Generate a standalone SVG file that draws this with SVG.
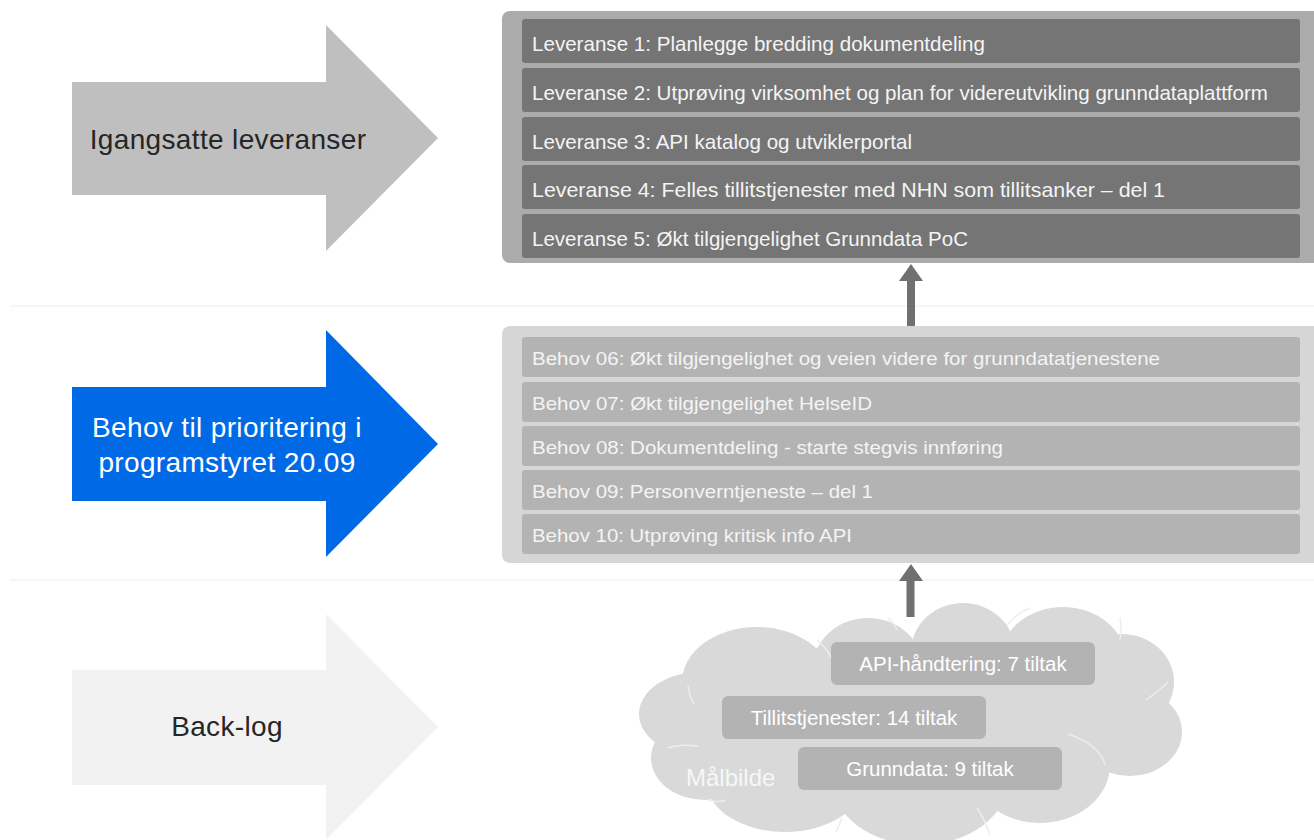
<svg xmlns="http://www.w3.org/2000/svg" width="1314" height="840" viewBox="0 0 1314 840">
  <style>
    .sep { stroke: #f3f3f3; stroke-width: 1.5; }
    .stage { font-family: "Liberation Sans", Arial, sans-serif; font-size: 28px; letter-spacing: 0.35px; text-anchor: middle; }
    .lev-row { fill: #757575; }
    .lev-txt { font-family: "Liberation Sans", Arial, sans-serif; font-size: 21px; fill: #f4f4f4; }
    .beh-row { fill: #b3b3b3; }
    .beh-txt { font-family: "Liberation Sans", Arial, sans-serif; font-size: 19px; fill: #f4f4f4; }
    .pill { fill: #b3b3b3; }
    .pill-txt { font-family: "Liberation Sans", Arial, sans-serif; font-size: 20.5px; fill: #ffffff; text-anchor: middle; }
    .conn { fill: #707070; }
    .cloud { fill: #d9d9d9; }
    .cloud-line { fill: none; stroke: #ededed; stroke-width: 1.5; }
  </style>

  <rect width="1314" height="840" fill="#ffffff"/>

  <!-- band separators -->
  <line class="sep" x1="10" y1="306" x2="1314" y2="306"/>
  <line class="sep" x1="10" y1="580" x2="1314" y2="580"/>

  <!-- stage arrows on the left -->
  <g id="stage-leveranser">
    <polygon points="72,82 326,82 326,25 438,138 326,251 326,195 72,195" fill="#bfbfbf"/>
    <text class="stage" x="228" y="149" fill="#262626">Igangsatte leveranser</text>
  </g>
  <g id="stage-behov">
    <polygon points="72,387 326,387 326,330 438,444 326,557 326,501 72,501" fill="#0069e6"/>
    <text class="stage" x="227" y="437" fill="#ffffff">Behov til prioritering i</text>
    <text class="stage" x="227" y="472" fill="#ffffff">programstyret 20.09</text>
  </g>
  <g id="stage-backlog">
    <polygon points="72,670 326,670 326,614 438,727 326,840 326,785 72,785" fill="#f2f2f2"/>
    <text class="stage" x="227" y="736" fill="#262626">Back-log</text>
  </g>

  <!-- deliveries in progress -->
  <g id="leveranser">
    <rect x="502" y="11" width="830" height="252" rx="8" fill="#ababab"/>
    <rect class="lev-row" x="522" y="19" width="778" height="44" rx="3"/>
    <text class="lev-txt" x="532" y="51" textLength="453" lengthAdjust="spacingAndGlyphs">Leveranse 1: Planlegge bredding dokumentdeling</text>
    <rect class="lev-row" x="522" y="68" width="778" height="44" rx="3"/>
    <text class="lev-txt" x="532" y="100" textLength="736" lengthAdjust="spacingAndGlyphs">Leveranse 2: Utprøving virksomhet og plan for videreutvikling grunndataplattform</text>
    <rect class="lev-row" x="522" y="117" width="778" height="44" rx="3"/>
    <text class="lev-txt" x="532" y="149" textLength="380" lengthAdjust="spacingAndGlyphs">Leveranse 3: API katalog og utviklerportal</text>
    <rect class="lev-row" x="522" y="165" width="778" height="44" rx="3"/>
    <text class="lev-txt" x="532" y="197" textLength="633" lengthAdjust="spacingAndGlyphs">Leveranse 4: Felles tillitstjenester med NHN som tillitsanker – del 1</text>
    <rect class="lev-row" x="522" y="214" width="778" height="44" rx="3"/>
    <text class="lev-txt" x="532" y="246" textLength="436" lengthAdjust="spacingAndGlyphs">Leveranse 5: Økt tilgjengelighet Grunndata PoC</text>
  </g>

  <!-- needs for prioritisation -->
  <g id="behov">
    <rect x="502" y="326" width="830" height="237" rx="8" fill="#d6d6d6"/>
    <rect class="beh-row" x="522" y="337" width="778" height="40" rx="3"/>
    <text class="beh-txt" x="532" y="365" textLength="628" lengthAdjust="spacingAndGlyphs">Behov 06: Økt tilgjengelighet og veien videre for grunndatatjenestene</text>
    <rect class="beh-row" x="522" y="382" width="778" height="40" rx="3"/>
    <text class="beh-txt" x="532" y="410" textLength="340" lengthAdjust="spacingAndGlyphs">Behov 07: Økt tilgjengelighet HelseID</text>
    <rect class="beh-row" x="522" y="426" width="778" height="40" rx="3"/>
    <text class="beh-txt" x="532" y="454" textLength="471" lengthAdjust="spacingAndGlyphs">Behov 08: Dokumentdeling - starte stegvis innføring</text>
    <rect class="beh-row" x="522" y="470" width="778" height="40" rx="3"/>
    <text class="beh-txt" x="532" y="498" textLength="341" lengthAdjust="spacingAndGlyphs">Behov 09: Personverntjeneste – del 1</text>
    <rect class="beh-row" x="522" y="514" width="778" height="40" rx="3"/>
    <text class="beh-txt" x="532" y="542" textLength="320" lengthAdjust="spacingAndGlyphs">Behov 10: Utprøving kritisk info API</text>
  </g>

  <!-- connectors -->
  <g id="connectors">
    <polygon class="conn" points="911,264 923,281 915,281 915,326 907,326 907,281 899,281"/>
    <polygon class="conn" points="911,564 923,581 914.5,581 914.5,617 906.5,617 906.5,581 899,581"/>
  </g>

  <!-- backlog cloud -->
  <g id="malbilde">
    <g class="cloud">
      <ellipse cx="910" cy="725" rx="225" ry="85"/>
      <ellipse cx="757" cy="682" rx="75" ry="55"/>
      <ellipse cx="868" cy="668" rx="55" ry="50"/>
      <ellipse cx="963" cy="652" rx="52" ry="49"/>
      <ellipse cx="1063" cy="658" rx="62" ry="51"/>
      <ellipse cx="1122" cy="682" rx="52" ry="48"/>
      <ellipse cx="1130" cy="732" rx="52" ry="44"/>
      <ellipse cx="1040" cy="765" rx="70" ry="58"/>
      <ellipse cx="920" cy="780" rx="88" ry="65"/>
      <ellipse cx="785" cy="782" rx="78" ry="50"/>
      <ellipse cx="705" cy="758" rx="54" ry="42"/>
      <ellipse cx="700" cy="714" rx="61" ry="42"/>
    </g>
    <path class="cloud-line" d="M817,640 Q830,650 835,668"/>
    <path class="cloud-line" d="M888,618 Q895,624 897,630"/>
    <path class="cloud-line" d="M1007,625 Q1018,612 1030,608"/>
    <path class="cloud-line" d="M1120,640 Q1122,628 1120,618"/>
    <path class="cloud-line" d="M1146,700 Q1160,690 1168,682"/>
    <path class="cloud-line" d="M1068,734 Q1100,745 1105,765"/>
    <path class="cloud-line" d="M977,808 Q985,820 990,835"/>
    <path class="cloud-line" d="M842,818 Q838,828 836,832"/>
    <path class="cloud-line" d="M708,800 Q718,803 726,800"/>
    <path class="cloud-line" d="M668,748 Q680,744 698,746"/>
    <path class="cloud-line" d="M688,686 Q690,698 694,704"/>

    <rect class="pill" x="831" y="642" width="264" height="43" rx="6"/>
    <text class="pill-txt" x="963" y="671">API-håndtering: 7 tiltak</text>
    <rect class="pill" x="722" y="696" width="264" height="43" rx="6"/>
    <text class="pill-txt" x="854" y="725">Tillitstjenester: 14 tiltak</text>
    <rect class="pill" x="798" y="747" width="264" height="43" rx="6"/>
    <text class="pill-txt" x="930" y="776">Grunndata: 9 tiltak</text>
    <text x="686" y="786" font-family="'Liberation Sans', Arial, sans-serif" font-size="24" fill="#f7f7f7">Målbilde</text>
  </g>
</svg>
